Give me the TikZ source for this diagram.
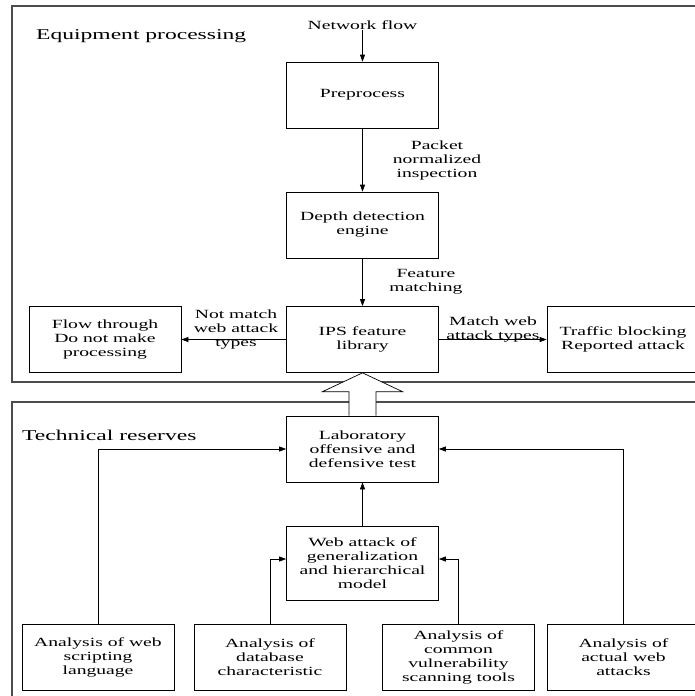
\documentclass[tikz,border=0pt]{standalone}
\usepackage{fontspec}
\newfontfamily\diagfont[FakeStretch=1.57]{Liberation Serif}
\usetikzlibrary{arrows.meta}
\tikzset{
  box/.style={draw, line width=0.7pt, minimum width=152pt, minimum height=66pt, inner sep=0pt, align=center, font=\diagfont\fontsize{12.5}{14}\selectfont},
  lbl/.style={align=center, inner sep=0pt, font=\diagfont\fontsize{12.5}{14}\selectfont},
  ttl/.style={anchor=west, inner sep=0pt, font=\diagfont\fontsize{15}{17}\selectfont},
  frame/.style={draw=black!70, line width=1.2pt},
  arr/.style={-{Triangle[length=7pt,width=5pt]}, line width=0.7pt},
}
\begin{document}
\begin{tikzpicture}[x=1pt,y=-1pt]
                \useasboundingbox (0,0) rectangle (695,696);
                \clip (0,0) rectangle (695,696);
                \draw[frame] (12,6) rectangle (730,382);
                \draw[frame] (12,402) rectangle (730,730);
                \node[ttl] (eqp) at (36,36) {Equipment processing};
                \node[ttl] (tech) at (22,435) {Technical reserves};

                \node[lbl] (net) at (362.5,25) {Network flow};
                \node[box] (pre) at (362.5,95) {Preprocess};
                \node[box] (dde) at (362.5,225) {Depth detection\\engine};
                \node[box] (ips) at (362.5,339.5) {IPS feature\\library};
                \node[box] (flow) at (105,339.5) {Flow through\\Do not make\\processing};
                \node[box] (blk) at (623,339.5) {Traffic blocking\\Reported attack};

                \node[lbl] (pkt) at (437,160) {Packet\\normalized\\inspection};
                \node[lbl] (feat) at (426,282) {Feature\\matching};
                \node[lbl] (nomatch) at (236,330) {Not match\\web attack\\types};
                \node[lbl] (match) at (493,330) {Match web\\attack types};

                \draw[arr] (net) -- (pre);
                \draw[arr] (pre) -- (dde);
                \draw[arr] (dde) -- (ips);
                \draw[arr] (ips) -- (flow);
                \draw[arr] (ips) -- (blk);

                \node[box] (lab) at (362.5,449) {Laboratory\\offensive and\\defensive test};
                \node[box, minimum height=74pt] (web) at (362.5,563) {Web attack of\\generalization\\and hierarchical\\model};
                \node[box] (scr) at (98,657.5) {Analysis of web\\scripting\\language};
                \node[box] (db) at (270,657.5) {Analysis of\\database\\characteristic};
                \node[box] (vul) at (458.5,657.5) {Analysis of\\common\\vulnerability\\scanning tools};
                \node[box] (act) at (623.5,657.5) {Analysis of\\actual web\\attacks};

                \draw[arr] (web) -- (lab);
                \draw[arr] (scr.north) |- (lab.west);
                \draw[arr] (act.north) |- (lab.east);
                \draw[arr] (db.north) |- ([yshift=4pt]web.west);
                \draw[arr] (vul.north) |- ([yshift=4pt]web.east);

                \draw[line width=0.7pt, fill=white] ([xshift=-13.5pt]lab.north) -- ([xshift=-13.5pt,yshift=24pt]lab.north) -- ([xshift=-40pt,yshift=24pt]lab.north) -- (ips.south) -- ([xshift=40pt,yshift=24pt]lab.north) -- ([xshift=13.5pt,yshift=24pt]lab.north) -- ([xshift=13.5pt]lab.north);
            \end{tikzpicture}
\end{document}
